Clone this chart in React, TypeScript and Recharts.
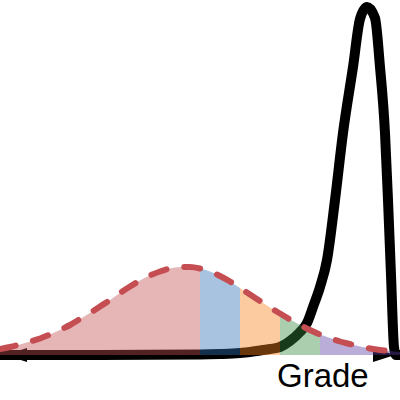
import React from "react";
import { ComposedChart, Area, Line, Scatter, XAxis, YAxis } from "recharts";

// grade positions (0-100) where the class curve was read
const grades = [
  0, 2.5, 5, 7.5, 10, 12.5, 15, 17.5, 20, 22.5, 25, 27.5, 30, 32.5, 35, 37.5,
  40, 42.5, 45, 47.5, 50, 52.5, 55, 57.5, 60, 62.5, 65, 67.5, 70, 72.5, 75,
  77.5, 80, 82.5, 85, 87.5, 90, 92.5, 95, 97.5, 100,
];
// bell curve heights (arbitrary density units)
const bellHeights = [
  6, 8, 10.5, 13.5, 16.5, 20.5, 25, 30, 36, 42, 48.5, 55, 62, 68.5, 74.5, 79.5,
  83.5, 86.5, 88, 88, 86.5, 83.5, 79, 73.5, 67, 60.5, 54, 47.5, 41.5, 35.5, 30,
  25, 20.5, 17, 13.5, 11, 8.5, 6.5, 5, 4, 3,
];

// the skewed (black) curve
const skewGrades = [
  0, 25, 50, 55, 60, 62.5, 65, 67.5, 70, 72.5, 75, 76.75, 78.25, 80, 81.75,
  83.75, 85.75, 88.25, 90, 91.75, 93.75, 95, 96.25, 97, 97.75, 98.5, 99, 100,
];
const skewHeights = [
  0, 0, 0.5, 1, 2, 3, 4.5, 6, 8, 14, 23, 32, 48, 68, 95, 155, 222, 288, 336,
  348, 337, 288, 222, 155, 80, 8, 0, 0,
];

// grade bands
const bandEdges = [0, 50, 60, 70, 80, 100];
const bandColors = ["#c44e52", "#2f70b5", "#f7821a", "#348a3e", "#5b3da2"];

const bellData = grades.map((x, i) => ({ x, y: bellHeights[i] }));
const skewData = skewGrades.map((x, i) => ({ x, y: skewHeights[i] }));
const bands = bandColors.map((color, i) => ({
  color,
  data: bellData.filter((d) => d.x >= bandEdges[i] && d.x <= bandEdges[i + 1]),
}));

// axis arrow heads (tips)
const arrowData = [
  { x: 1.25, y: 0, dir: -1 },
  { x: 98.75, y: 0, dir: 1 },
];

const ArrowHead = (props: any) => {
  const { cx, cy, payload } = props;
  const back = cx - payload.dir * 22;
  return (
    <polygon
      points={`${cx},${cy} ${back},${cy - 7} ${back},${cy + 7}`}
      fill="#000"
    />
  );
};

export default function App() {
  return (
    <div
      style={{
        position: "absolute",
        left: 0,
        top: 0,
        width: 400,
        height: 400,
        background: "#fff",
      }}
    >
      <ComposedChart
        width={400}
        height={400}
        margin={{ top: 0, right: 0, left: 0, bottom: 45 }}
      >
        <XAxis dataKey="x" type="number" domain={[0, 100]} hide />
        <YAxis type="number" domain={[0, 355]} hide />
        <Line
          data={skewData}
          dataKey="y"
          type="monotone"
          stroke="#000"
          strokeWidth={10}
          dot={false}
          activeDot={false}
          zIndex={50}
          isAnimationActive={false}
        />
        <Scatter
          data={arrowData}
          dataKey="y"
          shape={ArrowHead}
          zIndex={50}
          isAnimationActive={false}
        />
        {bands.map((b, i) => (
          <Area
            key={i}
            data={b.data}
            dataKey="y"
            type="monotone"
            stroke="none"
            fill={b.color}
            fillOpacity={0.42}
            dot={false}
            activeDot={false}
            isAnimationActive={false}
          />
        ))}
        <Line
          data={bellData}
          dataKey="y"
          type="monotone"
          stroke="#c44e52"
          strokeWidth={6}
          strokeDasharray="16 18"
          strokeLinecap="round"
          dot={false}
          activeDot={false}
          isAnimationActive={false}
        />
      </ComposedChart>
      <div
        style={{
          position: "absolute",
          left: 277,
          top: 359,
          fontFamily: "'Liberation Sans', Arial, sans-serif",
          fontSize: 33,
          lineHeight: "33px",
          color: "#000",
        }}
      >
        Grade
      </div>
    </div>
  );
}
